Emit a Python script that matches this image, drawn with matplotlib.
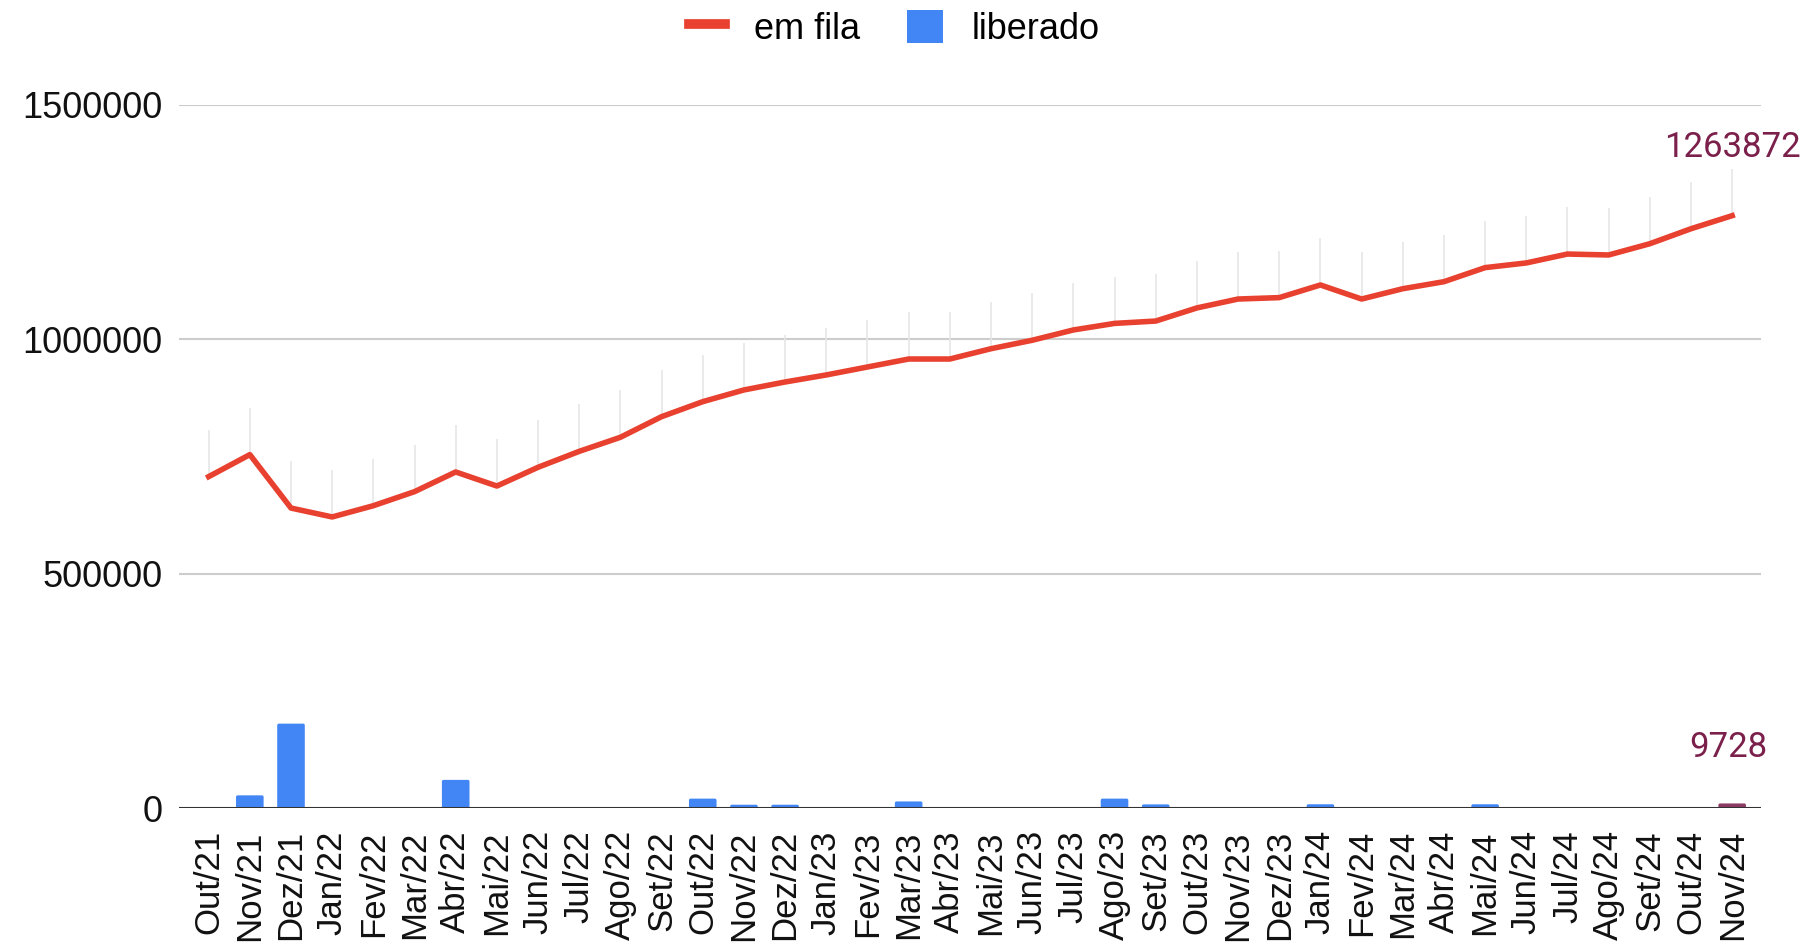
import matplotlib
matplotlib.use("Agg")
import matplotlib.pyplot as plt
from matplotlib.patches import FancyBboxPatch, Patch
from matplotlib.lines import Line2D

months = ["Out/21", "Nov/21", "Dez/21", "Jan/22", "Fev/22", "Mar/22", "Abr/22", "Mai/22",
          "Jun/22", "Jul/22", "Ago/22", "Set/22", "Out/22", "Nov/22", "Dez/22", "Jan/23",
          "Fev/23", "Mar/23", "Abr/23", "Mai/23", "Jun/23", "Jul/23", "Ago/23", "Set/23",
          "Out/23", "Nov/23", "Dez/23", "Jan/24", "Fev/24", "Mar/24", "Abr/24", "Mai/24",
          "Jun/24", "Jul/24", "Ago/24", "Set/24", "Out/24", "Nov/24"]

em_fila = [707000, 754000, 640000, 621000, 645000, 675000, 717000, 687000,
           727000, 761000, 791000, 835000, 867000, 892000, 909000, 924000,
           941000, 958000, 958000, 980000, 998000, 1020000, 1034000, 1039000,
           1067000, 1086000, 1089000, 1116000, 1086000, 1108000, 1123000, 1153000,
           1163000, 1182000, 1180000, 1204000, 1236000, 1263872]

liberado = [0, 27000, 180000, 0, 0, 0, 60000, 0,
            0, 0, 0, 0, 20000, 7000, 7000, 0,
            0, 14000, 0, 0, 0, 0, 20000, 7700,
            0, 0, 0, 8000, 0, 0, 0, 8000,
            0, 0, 0, 0, 0, 9728]

yticks = [0, 500000, 1000000, 1500000]

RED = "#e8412f"
BLUE = "#4285f4"
MAROON = "#8c3b64"
LABEL = "#7b1f4b"

plt.rcParams['font.family'] = ['Liberation Sans', 'DejaVu Sans']

fig = plt.figure(figsize=(18.11, 9.44), dpi=100)
ax = fig.add_axes([179/1811, 1 - 808/944, (1761-179)/1811, (808-105)/944])

x = list(range(len(months)))

# bars with slightly rounded corners
bars = ax.bar(x, liberado, width=0.67, color=BLUE, zorder=2)
aspect = 88700
for i, r in enumerate(bars):
    r.set_visible(False)
    h = r.get_height()
    if h <= 0:
        continue
    col = MAROON if i == len(months) - 1 else BLUE
    p = FancyBboxPatch((r.get_x(), 0), r.get_width(), h,
                       boxstyle="round,pad=0,rounding_size=0.04",
                       mutation_aspect=aspect, fc=col, ec='none', zorder=2)
    ax.add_patch(p)

# faint leader lines above each point
ax.vlines(x, em_fila, [v + 100000 for v in em_fila], colors="#e6e6e6",
          linewidth=1.2, zorder=1, clip_on=False)

ax.plot(x, em_fila, color=RED, linewidth=4.0, zorder=3, solid_joinstyle='round')

ax.set_xlim(-0.72, len(months) - 1 + 0.7)
ax.set_ylim(0, 1500000)
ax.set_yticks(yticks)
ax.set_yticklabels([str(v) for v in yticks])
ax.set_xticks(x)
ax.set_xticklabels(months, rotation=90)

ax.grid(axis='y', color='#cccccc', linewidth=1.5, zorder=0)
ax.set_axisbelow(True)
ax.axhline(0, color='#333333', linewidth=2.2, zorder=4)

for s in ax.spines.values():
    s.set_visible(False)
ax.tick_params(axis='x', length=0, labelsize=25, colors='#111111', pad=16)
ax.tick_params(axis='y', length=0, labelsize=26, colors='#111111', pad=12)

# data labels
ax.text(len(months) - 1, 1409000, "1263872", ha='center', va='center',
        fontsize=25, color=LABEL, family=['Roboto', 'DejaVu Sans'], clip_on=False)
ax.text(len(months) - 1.1, 130000, "9728", ha='center', va='center',
        fontsize=25, color=LABEL, family=['Roboto', 'DejaVu Sans'], clip_on=False)

handles = [Line2D([0], [0], color=RED, linewidth=7),
           Patch(facecolor=BLUE, edgecolor='none')]
fig.legend(handles, ["em fila", "liberado"], loc='upper center',
           bbox_to_anchor=(0.494, 1.024), ncol=2, frameon=False, fontsize=26,
           handlelength=1.0, handleheight=1.05, columnspacing=1.3, handletextpad=0.8)

fig.savefig("out.png", dpi=100)
